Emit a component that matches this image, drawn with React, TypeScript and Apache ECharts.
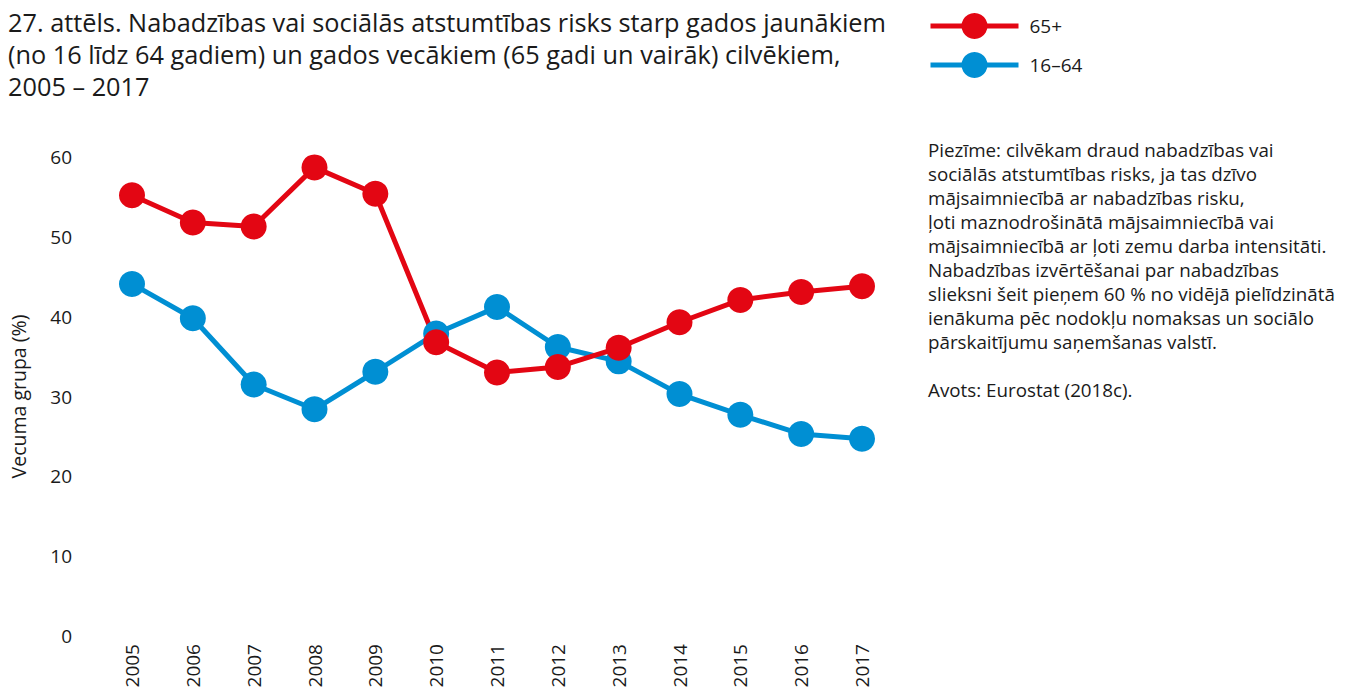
import React, { useEffect, useRef } from "react";
import * as echarts from "echarts";

const years = ["2005", "2006", "2007", "2008", "2009", "2010", "2011", "2012", "2013", "2014", "2015", "2016", "2017"];
const older = [55.2, 51.8, 51.3, 58.7, 55.4, 36.8, 33.0, 33.7, 36.1, 39.3, 42.1, 43.1, 43.8];
const younger = [44.1, 39.8, 31.5, 28.4, 33.1, 37.9, 41.2, 36.2, 34.4, 30.3, 27.7, 25.3, 24.7];
const seriesNames = ["65+", "16–64"];
const titleText =
  "27. attēls. Nabadzības vai sociālās atstumtības risks starp gados jaunākiem\n(no 16 līdz 64 gadiem) un gados vecākiem (65 gadi un vairāk) cilvēkiem,\n2005 – 2017";
const noteText =
  "Piezīme: cilvēkam draud nabadzības vai\nsociālās atstumtības risks, ja tas dzīvo\nmājsaimniecībā ar nabadzības risku,\nļoti maznodrošinātā mājsaimniecībā vai\nmājsaimniecībā ar ļoti zemu darba intensitāti.\nNabadzības izvērtēšanai par nabadzības\nslieksni šeit pieņem 60 % no vidējā pielīdzinātā\nienākuma pēc nodokļu nomaksas un sociālo\npārskaitījumu saņemšanas valstī.\n\nAvots: Eurostat (2018c).";
const yName = "Vecuma grupa (%)";

const RED = "#e30613";
const BLUE = "#008fd3";
const FONT = "'Open Sans', 'Noto Sans', sans-serif";
const TXT = "#1a1a1a";

export default function App() {
  const ref = useRef<HTMLDivElement>(null);
  useEffect(() => {
    if (!ref.current) return;
    const chart = echarts.init(ref.current, null, { renderer: "svg" });
    chart.setOption({
      animation: false,
      textStyle: { fontFamily: FONT, color: TXT },
      title: {
        text: titleText,
        left: 3,
        top: 1,
        textStyle: { fontFamily: FONT, fontSize: 25.3, fontWeight: "normal", color: TXT, lineHeight: 32 },
      },
      legend: {
        data: seriesNames,
        orient: "vertical",
        left: 923,
        top: 8,
        itemWidth: 88,
        itemHeight: 32.5,
        itemGap: 13,
        lineStyle: { width: 5 },
        textStyle: { fontFamily: FONT, fontSize: 19, color: TXT, padding: [0, 0, 0, 6] },
      },
      graphic: [
        {
          type: "text",
          left: 928,
          top: 138,
          style: { text: noteText, fontFamily: FONT, fontSize: 18.8, lineHeight: 24, fill: TXT },
        },
      ],
      grid: { left: 124, right: 487, top: 157, bottom: 59, containLabel: false },
      xAxis: {
        type: "category",
        data: years,
        boundaryGap: false,
        axisLine: { show: false },
        axisTick: { show: false },
        axisLabel: { rotate: 90, margin: 8, fontFamily: FONT, fontSize: 19, color: TXT },
      },
      yAxis: {
        type: "value",
        min: 0,
        max: 60,
        interval: 10,
        name: yName,
        nameLocation: "middle",
        nameGap: 104,
        nameTextStyle: { fontFamily: FONT, fontSize: 19.5, color: TXT },
        axisLine: { show: false },
        axisTick: { show: false },
        splitLine: { show: false },
        axisLabel: { margin: 60, fontFamily: FONT, fontSize: 19, color: TXT },
      },
      series: [
        {
          name: seriesNames[1],
          type: "line",
          data: younger,
          symbol: "circle",
          symbolSize: 26,
          clip: false,
          itemStyle: { color: BLUE },
          lineStyle: { color: BLUE, width: 5 },
        },
        {
          name: seriesNames[0],
          type: "line",
          data: older,
          symbol: "circle",
          symbolSize: 26,
          clip: false,
          itemStyle: { color: RED },
          lineStyle: { color: RED, width: 5 },
        },
      ],
    });
    return () => chart.dispose();
  }, []);
  return <div ref={ref} style={{ position: "absolute", left: 0, top: 0, width: 1349, height: 695 }} />;
}
